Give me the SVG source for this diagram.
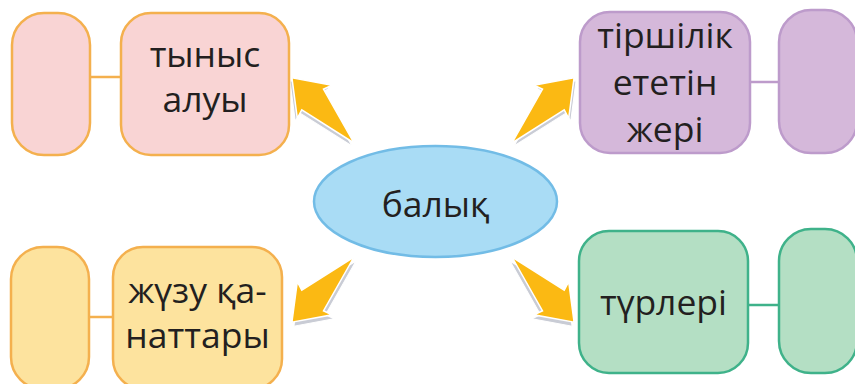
<svg xmlns="http://www.w3.org/2000/svg" xmlns:xlink="http://www.w3.org/1999/xlink" width="855" height="384" viewBox="0 0 855 384">
<style>
.t{font-family:"Open Sans","Noto Sans","DejaVu Sans",sans-serif;font-size:35.5px;fill:#231f20;text-anchor:middle}
.pink{fill:#f9d4d4;stroke:#f4b04e;stroke-width:2.5}
.yel{fill:#fde39e;stroke:#f4b04e;stroke-width:2.5}
.pur{fill:#d5b8da;stroke:#bd9bcb;stroke-width:2.5}
.grn{fill:#b4dfc4;stroke:#3fb28a;stroke-width:2.5}
.lo{stroke:#f4b04e;stroke-width:2.5}
.lp{stroke:#bd9bcb;stroke-width:2.5}
.lg{stroke:#3fb28a;stroke-width:2.5}
.arr{fill:#fbb913;stroke:#ffffff;stroke-width:1.5;stroke-linejoin:miter}
.sh{fill:#c9ccd5;stroke:#ffffff;stroke-width:1}
</style>
<defs>
<polygon id="a" points="0,0 60,-15 57,-24 90,0 57,24 60,15"/>
</defs>
<rect width="855" height="384" fill="#ffffff"/>
<g id="connectors">
<line class="lo" x1="90" y1="77" x2="121" y2="77"/>
<line class="lp" x1="750" y1="82" x2="779" y2="82"/>
<line class="lo" x1="89" y1="317" x2="113" y2="317"/>
<line class="lg" x1="748" y1="305" x2="779" y2="305"/>
<g class="sh">
<use xlink:href="#a" transform="translate(352,146) rotate(-133.6)"/>
<use xlink:href="#a" transform="translate(514,146) rotate(-46.4)"/>
<use xlink:href="#a" transform="translate(356,261) rotate(133.6)"/>
<use xlink:href="#a" transform="translate(510,261) rotate(46.4)"/>
</g>
<g class="arr">
<use xlink:href="#a" transform="translate(354,143) rotate(-133.6)"/>
<use xlink:href="#a" transform="translate(512,143) rotate(-46.4)"/>
<use xlink:href="#a" transform="translate(354,257) rotate(133.6)"/>
<use xlink:href="#a" transform="translate(512,257) rotate(46.4)"/>
</g>
</g>
<g id="center">
<ellipse cx="435.5" cy="201.5" rx="121.5" ry="55.5" fill="#a9dcf5" stroke="#72bce6" stroke-width="2.5"/>
<text class="t" x="435.5" y="217">балық</text>
</g>
<g id="breath-extra"><rect class="pink" x="12" y="13" width="78" height="142" rx="32"/></g>
<g id="breath">
<rect class="pink" x="121" y="13" width="168" height="142" rx="30"/>
<text class="t" x="205" y="67">тыныс</text>
<text class="t" x="205" y="112">алуы</text>
</g>
<g id="habitat">
<rect class="pur" x="580" y="12" width="170" height="141" rx="30"/>
<text class="t" x="665" y="48">тіршілік</text>
<text class="t" x="665" y="95">ететін</text>
<text class="t" x="665" y="142">жері</text>
</g>
<g id="habitat-extra"><rect class="pur" x="779" y="10" width="78" height="143" rx="32"/></g>
<g id="fins-extra"><rect class="yel" x="11" y="247" width="78" height="142" rx="32"/></g>
<g id="fins">
<rect class="yel" x="113" y="247" width="169" height="142" rx="30"/>
<text class="t" x="197.5" y="303">жүзу қа-</text>
<text class="t" x="197.5" y="348">наттары</text>
</g>
<g id="kinds">
<rect class="grn" x="579" y="231" width="169" height="142" rx="30"/>
<text class="t" x="663.5" y="315">түрлері</text>
</g>
<g id="kinds-extra"><rect class="grn" x="779" y="229" width="78" height="144" rx="32"/></g>
</svg>
